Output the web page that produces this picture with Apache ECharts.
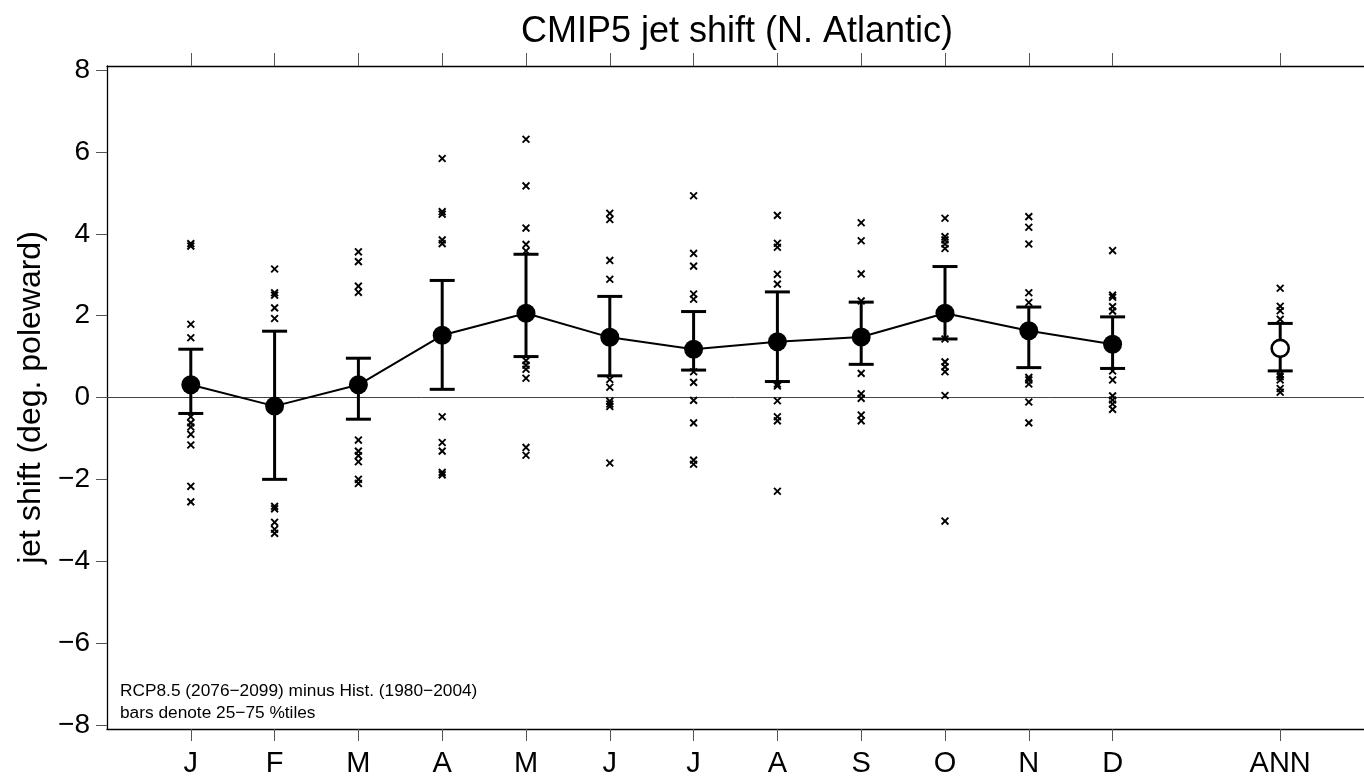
<!DOCTYPE html>
<html>
<head>
<meta charset="utf-8">
<script src="https://cdn.jsdelivr.net/npm/echarts@6/dist/echarts.min.js"></script>
<style>html,body{margin:0;padding:0;background:#fff;}#c{width:1364px;height:779px;}</style>
</head>
<body>
<div id="c"></div>
<script>
// ---- data ----
const months = ['J','F','M','A','M','J','J','A','S','O','N','D'];
const annLabel = 'ANN';
const means = [0.31, -0.21, 0.31, 1.52, 2.06, 1.47, 1.18, 1.36, 1.48, 2.06, 1.63, 1.30];
const p25   = [-0.39, -2.00, -0.53, 0.20, 1.00, 0.53, 0.67, 0.39, 0.81, 1.43, 0.73, 0.71];
const p75   = [1.18, 1.62, 0.96, 2.86, 3.50, 2.47, 2.10, 2.58, 2.33, 3.20, 2.21, 1.97];
const annMean = 1.20, annP25 = 0.65, annP75 = 1.81;

const ptsJan = [3.76, 3.70, 1.79, 1.46, -0.47, -0.62, -0.72, -0.90, -1.16, -2.17, -2.55];
const ptsFeb = [3.14, 2.56, 2.50, 2.19, 1.93, -2.66, -2.72, -3.05, -3.22, -3.32];
const ptsMar = [3.56, 3.32, 2.72, 2.57, -1.04, -1.31, -1.42, -1.57, -2.00, -2.10];
const ptsApr = [5.84, 4.54, 4.48, 3.85, 3.76, -0.47, -1.10, -1.31, -1.83, -1.89];
const ptsMay = [6.31, 5.17, 4.14, 3.74, 3.58, 0.90, 0.79, 0.69, 0.47, -1.22, -1.41];
const ptsJun = [4.50, 4.35, 3.35, 2.89, 0.44, 0.25, -0.09, -0.16, -0.22, -1.60];
const ptsJul = [4.93, 3.52, 3.21, 2.53, 2.40, 0.63, 0.37, -0.07, -0.62, -1.53, -1.63];
const ptsAug = [4.45, 3.77, 3.67, 3.01, 2.77, 0.33, 0.28, -0.08, -0.47, -0.57, -2.29];
const ptsSep = [4.27, 3.83, 3.02, 2.36, 0.59, 0.09, -0.02, -0.43, -0.57];
const ptsOct = [4.38, 3.93, 3.85, 3.75, 3.64, 1.43, 0.87, 0.75, 0.63, 0.05, -3.02];
const ptsNov = [4.42, 4.16, 3.75, 2.56, 2.32, 0.49, 0.43, 0.33, -0.11, -0.62];
const ptsDec = [3.59, 2.50, 2.45, 2.22, 2.11, 0.65, 0.43, 0.04, -0.06, -0.16, -0.29];
const ptsAnn = [2.67, 2.23, 2.12, 1.91, 0.57, 0.51, 0.43, 0.22, 0.13];

const yTicks = [-8, -6, -4, -2, 0, 2, 4, 6, 8];
const titleText = 'CMIP5 jet shift (N. Atlantic)';
const yName = 'jet shift (deg. poleward)';
const note1 = 'RCP8.5 (2076\u22122099) minus Hist. (1980\u22122004)';
const note2 = 'bars denote 25\u221275 %tiles';

// ---- build ----
const monthPts = [ptsJan, ptsFeb, ptsMar, ptsApr, ptsMay, ptsJun, ptsJul, ptsAug, ptsSep, ptsOct, ptsNov, ptsDec];
const annPos = months.length + 1;
const tickPos = months.map((_, i) => i).concat([annPos]);
const tickLabels = months.concat([annLabel]);

const crossData = [];
monthPts.forEach((arr, i) => arr.forEach(v => crossData.push([i, v])));
ptsAnn.forEach(v => crossData.push([annPos, v]));

const barData = months.map((_, i) => [i, p25[i], p75[i]]).concat([[annPos, annP25, annP75]]);
const meanData = means.map((v, i) => [i, v]);

const FONT = '"Liberation Sans", Arial, Helvetica, sans-serif';
const fmtNum = v => (v < 0 ? '\u2212' + Math.abs(v) : String(v));

const chart = echarts.init(document.getElementById('c'), null, {renderer: 'canvas'});
chart.setOption({
  animation: false,
  backgroundColor: '#fff',
  textStyle: {fontFamily: FONT},
  grid: {left: 107, top: 66, width: 1260, height: 663, containLabel: false},
  xAxis: [{
    type: 'value', min: -1, max: 14, position: 'bottom',
    axisLine: {show: true, onZero: false, lineStyle: {color: '#000', width: 1.3}},
    axisTick: {show: true, customValues: tickPos, length: 12, lineStyle: {color: '#555', width: 1}},
    axisLabel: {show: true, customValues: tickPos, margin: 20, fontSize: 29, color: '#000', fontFamily: FONT,
      formatter: v => tickLabels[tickPos.indexOf(v)] || ''},
    splitLine: {show: false}
  }, {
    type: 'value', min: -1, max: 14, position: 'top',
    axisLine: {show: true, onZero: false, lineStyle: {color: '#000', width: 1.3}},
    axisTick: {show: true, customValues: tickPos, length: 13, lineStyle: {color: '#555', width: 1}},
    axisLabel: {show: false},
    splitLine: {show: false}
  }],
  yAxis: {
    type: 'value', min: -8.1, max: 8.1,
    name: yName, nameLocation: 'middle', nameGap: 57, nameRotate: 90,
    nameTextStyle: {fontSize: 32, color: '#000', fontFamily: FONT},
    axisLine: {show: true, onZero: false, lineStyle: {color: '#000', width: 1.3}},
    axisTick: {show: true, customValues: yTicks, length: 11, lineStyle: {color: '#555', width: 1}},
    axisLabel: {show: true, customValues: yTicks, margin: 17, fontSize: 28, color: '#000', fontFamily: FONT,
      formatter: fmtNum},
    splitLine: {show: false}
  },
  graphic: [
    {type: 'text', x: 737, y: 32, silent: true,
      style: {text: titleText, fontSize: 36, fontFamily: FONT, fill: '#000', textAlign: 'center', textVerticalAlign: 'middle'}},
    {type: 'text', x: 120, y: 691, silent: true,
      style: {text: note1, fontSize: 17.3, fontFamily: FONT, fill: '#000', textAlign: 'left', textVerticalAlign: 'middle'}},
    {type: 'text', x: 120, y: 713, silent: true,
      style: {text: note2, fontSize: 17.3, fontFamily: FONT, fill: '#000', textAlign: 'left', textVerticalAlign: 'middle'}}
  ],
  series: [
    {
      type: 'line', data: [[-1, 0], [14, 0]], symbol: 'none', silent: true,
      lineStyle: {color: '#444', width: 1}, z: 1
    },
    {
      type: 'custom', data: crossData, silent: true, z: 2,
      renderItem: (params, api) => {
        const p = api.coord([api.value(0), api.value(1)]);
        const h = 3.4;
        const st = {stroke: '#000', lineWidth: 1.9};
        return {type: 'group', children: [
          {type: 'line', shape: {x1: p[0]-h, y1: p[1]-h, x2: p[0]+h, y2: p[1]+h}, style: st},
          {type: 'line', shape: {x1: p[0]-h, y1: p[1]+h, x2: p[0]+h, y2: p[1]-h}, style: st}
        ]};
      }
    },
    {
      type: 'custom', data: barData, silent: true, z: 3,
      renderItem: (params, api) => {
        const lo = api.coord([api.value(0), api.value(1)]);
        const hi = api.coord([api.value(0), api.value(2)]);
        const w = 12.5;
        const st = {stroke: '#000', lineWidth: 3};
        return {type: 'group', children: [
          {type: 'line', shape: {x1: lo[0], y1: lo[1], x2: hi[0], y2: hi[1]}, style: st},
          {type: 'line', shape: {x1: lo[0]-w, y1: lo[1], x2: lo[0]+w, y2: lo[1]}, style: st},
          {type: 'line', shape: {x1: hi[0]-w, y1: hi[1], x2: hi[0]+w, y2: hi[1]}, style: st}
        ]};
      }
    },
    {
      type: 'line', data: meanData, symbol: 'circle', symbolSize: 19, silent: true, z: 4,
      lineStyle: {color: '#000', width: 2}, itemStyle: {color: '#000', opacity: 1}
    },
    {
      type: 'scatter', data: [[annPos, annMean]], symbol: 'circle', symbolSize: 17, silent: true, z: 5,
      itemStyle: {color: '#fff', borderColor: '#000', borderWidth: 2.6, opacity: 1}
    }
  ]
});
</script>
</body>
</html>
